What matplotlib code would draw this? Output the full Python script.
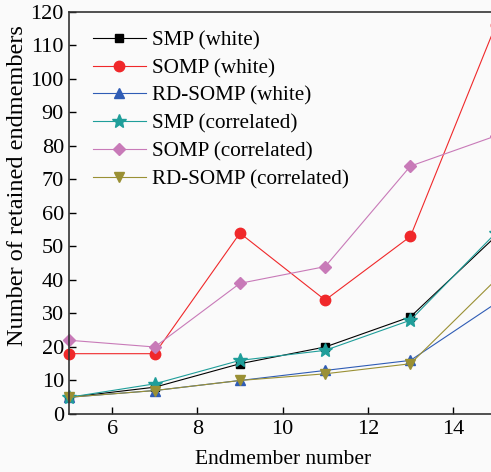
import matplotlib
matplotlib.use("Agg")
import matplotlib.pyplot as plt

x = [5, 7, 9, 11, 13, 15]
smp_white = [5, 8, 15, 20, 29, 53]
somp_white = [18, 18, 54, 34, 53, 116]
rdsomp_white = [5, 7, 10, 13, 16, 33]
smp_corr = [5, 9, 16, 19, 28, 54]
somp_corr = [22, 20, 39, 44, 74, 83]
rdsomp_corr = [5, 7, 10, 12, 15, 40]

labels = ["SMP (white)", "SOMP (white)", "RD-SOMP (white)",
          "SMP (correlated)", "SOMP (correlated)", "RD-SOMP (correlated)"]

plt.rcParams['font.family'] = ['Liberation Serif', 'DejaVu Serif']

fig = plt.figure(figsize=(4.91, 4.72), dpi=100)
fig.patch.set_facecolor('#fafafa')
ax = fig.add_axes([0.1415, 0.1229, 0.868, 0.8517])
ax.set_facecolor('#fafafa')

series = [
    (smp_white, 'black', 's', 6),
    (somp_white, '#f0282a', 'o', 7.5),
    (rdsomp_white, '#2f5cb5', '^', 7.5),
    (smp_corr, '#1f9e9a', '*', 10),
    (somp_corr, '#c87ab8', 'D', 6.5),
    (rdsomp_corr, '#9a9034', 'v', 7.5),
]
for (vals, c, m, ms), lab in zip(series, labels):
    ax.plot(x, vals, color=c, marker=m, markersize=ms, linewidth=0.8,
            label=lab, clip_on=False)

ax.set_xlim(5, 15)
ax.set_ylim(0, 120)
ax.set_xticks([6, 8, 10, 12, 14])
ax.set_yticks(range(0, 121, 10))
ax.tick_params(direction='in', labelsize=16, length=5, width=1, pad=4)
for s in ax.spines.values():
    s.set_linewidth(1.2)
    s.set_color('#333333')
ax.set_xlabel('Endmember number', fontsize=15.5, labelpad=8)
ax.set_ylabel('Number of retained endmembers', fontsize=17.5)
ax.yaxis.set_label_coords(-0.097, 0.567)

leg = ax.legend(loc='upper left', frameon=False, fontsize=15.2,
                bbox_to_anchor=(0.035, 0.975), handlelength=2.5,
                handletextpad=0.3, labelspacing=0.38, borderaxespad=0)

fig.savefig('out.png', dpi=100, facecolor=fig.get_facecolor())
